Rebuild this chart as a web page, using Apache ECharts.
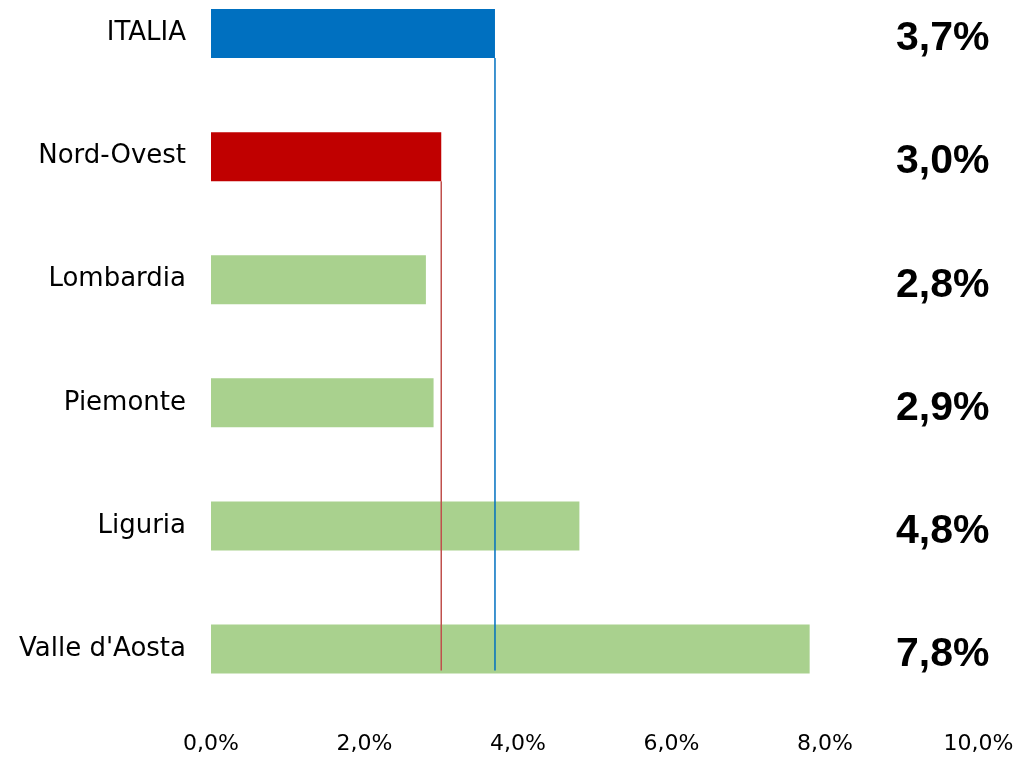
<!DOCTYPE html>
<html>
<head>
<meta charset="utf-8">
<script src="https://cdn.jsdelivr.net/npm/echarts@6/dist/echarts.min.js"></script>
<style>
  html, body { margin: 0; padding: 0; background: #fff; overflow: hidden; }
  /* the plot area starts above the page edge so the first band is partly clipped */
  #chart { position: absolute; left: 0; top: -28px; width: 1031px; height: 786px; }
</style>
</head>
<body>
<div id="chart"></div>
<script>
// Territories, top to bottom
const categories = ['ITALIA', 'Nord-Ovest', 'Lombardia', 'Piemonte', 'Liguria', "Valle d'Aosta"];
// Share, percent
const values = [3.7, 3.0, 2.8, 2.9, 4.8, 7.8];
const barColors = ['#0070C0', '#C00000', '#A9D18E', '#A9D18E', '#A9D18E', '#A9D18E'];
// Benchmark lines: [value, first category index, last category index]
const italiaRef = [[3.7, 0, 5]];
const nordOvestRef = [[3.0, 1, 5]];
const xTicks = [0, 2, 4, 6, 8, 10];

const fmt = v => v.toFixed(1).replace('.', ',') + '%';
const BAR_W = 49;

function refLine(color) {
  return function (params, api) {
    const a = api.coord([api.value(0), api.value(1)]);
    const b = api.coord([api.value(0), api.value(2)]);
    return {
      type: 'line',
      shape: { x1: a[0], y1: a[1] + BAR_W / 2, x2: b[0], y2: b[1] + BAR_W / 2 - 3 },
      style: { stroke: color, lineWidth: 1.5 }
    };
  };
}

const chart = echarts.init(document.getElementById('chart'));
chart.setOption({
  animation: false,
  grid: { left: 211, right: 52.5, top: 0, bottom: 47.5, containLabel: false },
  xAxis: {
    type: 'value', min: xTicks[0], max: xTicks[xTicks.length - 1], interval: 2,
    axisLine: { show: false }, axisTick: { show: false }, splitLine: { show: false },
    axisLabel: {
      margin: 23, color: '#000', fontFamily: 'DejaVu Sans', fontSize: 22,
      formatter: v => fmt(v)
    }
  },
  yAxis: [
    {
      type: 'category', data: categories, inverse: true,
      axisLine: { show: false }, axisTick: { show: false },
      axisLabel: { margin: 25, color: '#000', fontFamily: 'DejaVu Sans', fontSize: 26 }
    },
    {
      type: 'category', data: values.map(fmt), inverse: true, position: 'right',
      axisLine: { show: false }, axisTick: { show: false },
      axisLabel: {
        margin: 11, align: 'right',
        formatter: v => '{v|' + v + '}',
        rich: {
          v: {
            color: '#000', fontFamily: 'Liberation Sans', fontWeight: 'bold',
            fontSize: 41, padding: [11, 0, 0, 0]
          }
        }
      }
    }
  ],
  series: [
    {
      type: 'bar', barWidth: BAR_W,
      data: values.map((v, i) => ({ value: v, itemStyle: { color: barColors[i] } }))
    },
    {
      type: 'custom', renderItem: refLine('#0070C0'), data: italiaRef,
      encode: { x: 0, y: 1 }, z: 5, silent: true
    },
    {
      type: 'custom', renderItem: refLine('#C0504D'), data: nordOvestRef,
      encode: { x: 0, y: 1 }, z: 5, silent: true
    }
  ]
});
</script>
</body>
</html>
